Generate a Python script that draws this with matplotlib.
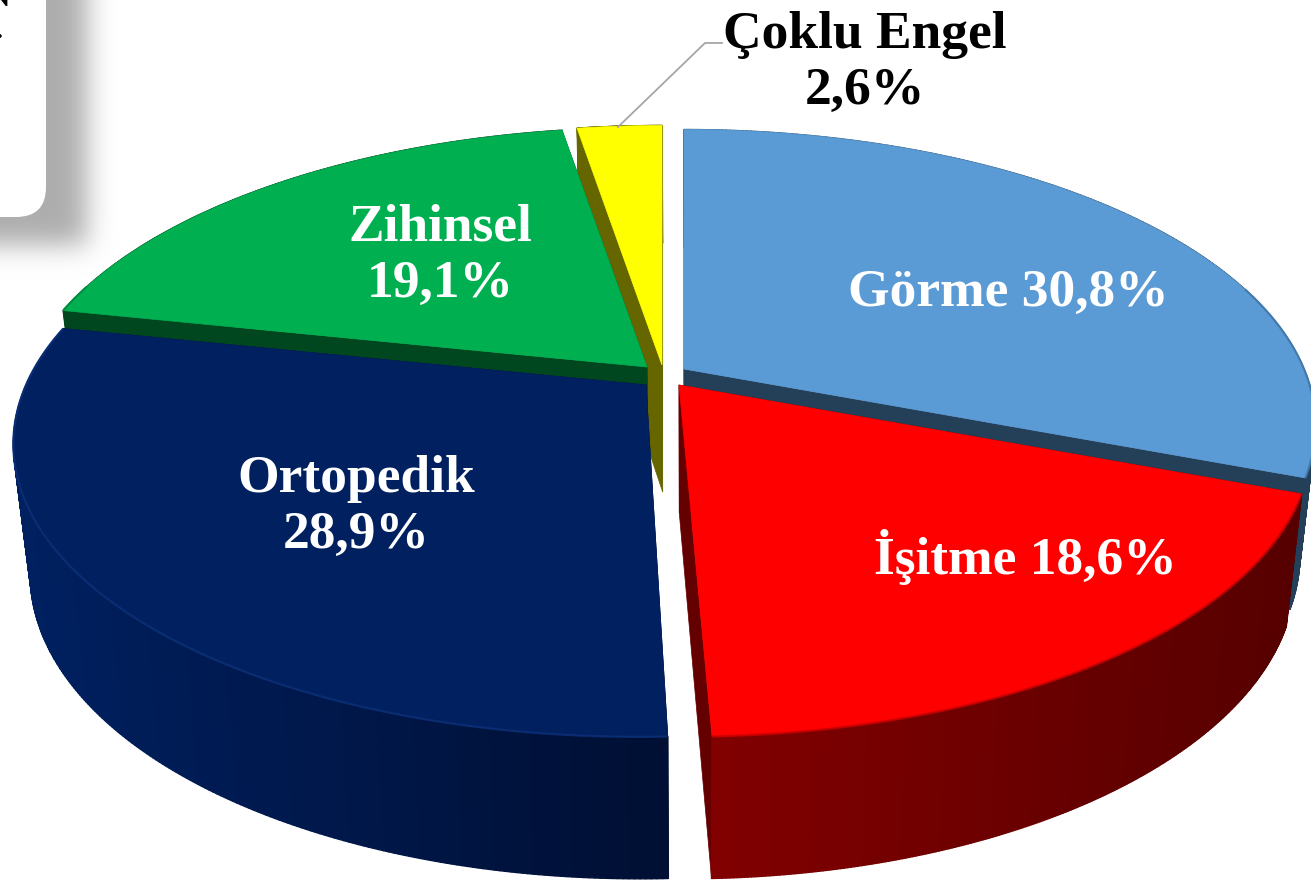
#!/usr/bin/env python3
"""Exploded 3D-looking pie, drawn by hand in pixel coordinates."""
import numpy as np
import matplotlib
matplotlib.use("Agg")
import matplotlib.pyplot as plt
from matplotlib.collections import PolyCollection
from matplotlib.colors import to_rgb
from matplotlib.patches import FancyBboxPatch, Polygon

# ---------- Data ----------
names = ["Görme", "İşitme", "Ortopedik", "Zihinsel", "Çoklu Engel"]
values = [30.8, 18.6, 28.9, 19.1, 2.6]

# ---------- Palette ----------
C_TOP = ["#5B9BD5", "#FF0000", "#002060", "#00B050", "#FFFF00"]
C_CUT = ["#243F58", "#650000", "#001038", "#00461F", "#666600"]
C_WALL_L = ["#2F5F8C", "#820000", "#002060", "#00461F", "#666600"]
C_WALL_R = ["#243F58", "#560000", "#000F33", "#00461F", "#666600"]
C_RIM = ["#3F75A8", "#C00000", "#0D3078", "#008A3E", "#C0C000"]

# ---------- Geometry ----------
W, H = 1311, 883
RX, RY, PERSP = 620, 285, 0.19
APEX = [(684, 369), (679, 385), (646, 385), (647, 367), (662, 365)]
SKEW = [0.0, 0.012, -0.02, 0.0, 0.0]
ORDER = [4, 3, 2, 0, 1]   # back to front

fig = plt.figure(figsize=(W / 100, H / 100), dpi=100)
ax = fig.add_axes([0, 0, 1, 1])
ax.set_xlim(0, W)
ax.set_ylim(H, 0)
ax.axis("off")


def rim(theta, i):
    """Top-face rim of slice i; theta is clockwise from 12 o'clock."""
    w = 1 + PERSP * np.cos(theta)
    dy = -RY * np.cos(theta) / w
    x = APEX[i][0] + RX * np.sin(theta) / w + SKEW[i] * dy
    return np.column_stack([x, APEX[i][1] + dy])


def drop(p):
    """Move top-face points down to the bottom face."""
    p = np.atleast_2d(p)
    x = 690 + 0.975 * (p[:, 0] - 690)
    y = p[:, 1] + 127 + 0.04 * (p[:, 1] - 363)
    return np.column_stack([x, y])


def mix(c1, c2, t):
    return tuple(a + (b - a) * t for a, b in zip(to_rgb(c1), to_rgb(c2)))


def draw_slice(i, t0, t1):
    theta = np.linspace(t0, t1, 240)
    top = rim(theta, i)
    bot = drop(top)
    apex = np.array([APEX[i]], dtype=float)
    apex_bot = drop(apex)

    # cut faces
    for end in (0, -1):
        face = [apex[0], top[end], bot[end], apex_bot[0]]
        ax.add_patch(Polygon(face, closed=True, fc=C_CUT[i], ec=C_CUT[i], lw=0.5))

    # outer wall, split in strips for the horizontal shading
    quads = [[top[k], top[k + 1], bot[k + 1], bot[k]] for k in range(len(top) - 1)]
    span = max(top[:, 0].max() - top[:, 0].min(), 1)
    fr = (top[:-1, 0] - top[:, 0].min()) / span
    cols = [mix(C_WALL_L[i], C_WALL_R[i], f) for f in fr]
    ax.add_collection(PolyCollection(quads, facecolors=cols, edgecolors=cols, linewidths=1.0))

    # top face and soft rim
    ax.add_patch(Polygon(np.vstack([apex, top]), closed=True, fc=C_TOP[i], ec=C_TOP[i], lw=0.5))
    front = np.cos(theta) < 0.3
    ax.plot(top[front, 0], top[front, 1], color=C_RIM[i], lw=1.6, alpha=0.8, solid_capstyle="butt")


# ---------- Rounded box with blurred shadow (cut by the page edge) ----------
yy, xx = np.mgrid[0:H, 0:W]
mask = ((xx < 87) & (yy < 245)).astype(float)
kernel = np.exp(-0.5 * (np.arange(-45, 46) / 13.0) ** 2)
kernel /= kernel.sum()
pad_mask = np.pad(mask[:300, :200], 50, mode="edge")
blur = np.apply_along_axis(lambda r: np.convolve(r, kernel, mode="same"), 0, pad_mask)
blur = np.apply_along_axis(lambda r: np.convolve(r, kernel, mode="same"), 1, blur)[50:-50, 50:-50]
rgba = np.zeros((300, 200, 4))
rgba[..., :3] = 0.68
rgba[..., 3] = blur
ax.imshow(rgba, extent=(0, 200, 300, 0), zorder=0, interpolation="bilinear", aspect="auto")
ax.set_xlim(0, W)
ax.set_ylim(H, 0)
ax.add_patch(FancyBboxPatch((-60, -60), 106, 277, boxstyle="round,pad=0,rounding_size=30",
                            fc="white", ec="none", zorder=1))
ax.text(10, 6, "N", ha="right", va="baseline", fontsize=20, fontweight="bold",
        family="Liberation Serif", color="black", zorder=2)
ax.text(3, 38, ".", ha="right", va="baseline", fontsize=20, fontweight="bold",
        family="Liberation Serif", color="black", zorder=2)

# ---------- Slices ----------
edges = np.cumsum([0] + values) / sum(values) * 2 * np.pi
for i in ORDER:
    draw_slice(i, edges[i], edges[i + 1])

# leader for the small slice
ax.plot([618, 705, 722], [127, 43, 43], color="#A6A6A6", lw=1.3, zorder=5)


# ---------- Labels ----------
def pct(v):
    return f"{v:.1f}".replace(".", ",") + "%"


LABEL_POS = [(1008, 293), (1025, 557), (356, 507), (440, 256), (865, 63)]
LABEL_SEP = [" ", " ", "\n", "\n", "\n"]
LABEL_COL = ["white", "white", "white", "white", "black"]
for i, name in enumerate(names):
    ax.text(LABEL_POS[i][0], LABEL_POS[i][1], name + LABEL_SEP[i] + pct(values[i]),
            ha="center", va="center", ma="center", fontsize=38.5, fontweight="bold",
            family="Liberation Serif", color=LABEL_COL[i], linespacing=1.22, zorder=6)

fig.savefig("out.png", dpi=100, facecolor="white")
